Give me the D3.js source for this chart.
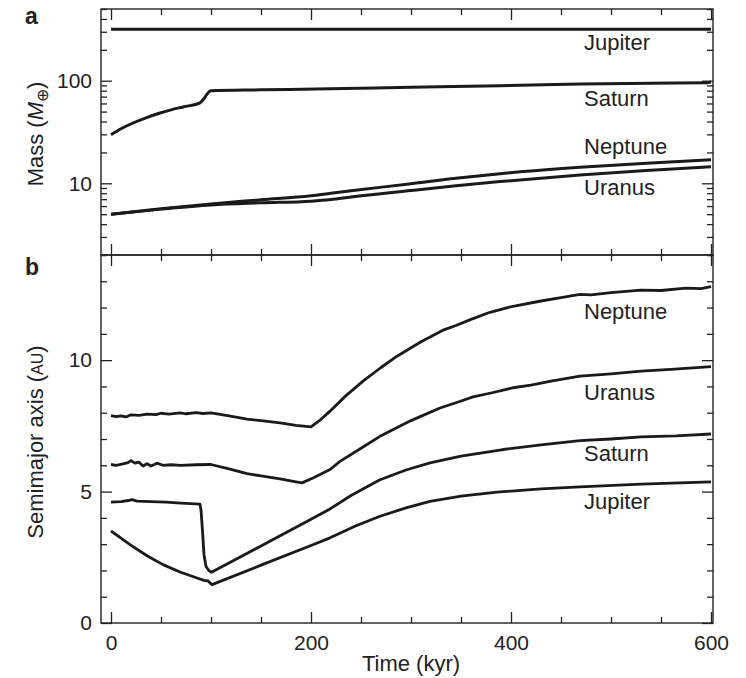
<!DOCTYPE html>
<html>
<head>
<meta charset="utf-8">
<script src="https://cdn.jsdelivr.net/npm/d3@7"></script>
<style>
  body { margin: 0; background: #fff; }
  text { font-family: "Liberation Sans", Arial, Helvetica, sans-serif; fill: #222; }
</style>
</head>
<body>
<svg width="746" height="678"></svg>
<script>
// ---- data: [time (kyr), value] ----
const jupiterMass = [[0, 318], [600, 318]];
const saturnMass = [[0, 29.7], [10, 34], [22, 38.7], [35, 43.5], [49, 48.5], [60, 52], [72, 55.5],
  [89, 60.9], [93, 67], [97, 76], [100, 80], [150, 81.5], [219, 83.5], [300, 86.5], [389, 89.5],
  [469, 92.8], [540, 94.5], [596, 95.5], [600, 97]];
const neptuneMass = [[0, 5], [50, 5.65], [100, 6.3], [150, 6.9], [200, 7.55], [220, 8.0], [240, 8.46],
  [300, 9.9], [345, 11.2], [389, 12.4], [469, 14.3], [540, 15.8], [600, 17]];
const uranusMass = [[0, 5], [50, 5.6], [100, 6.15], [150, 6.45], [200, 6.7], [220, 6.95], [240, 7.35],
  [300, 8.5], [345, 9.45], [389, 10.4], [469, 12.06], [540, 13.4], [600, 14.5]];

const neptuneAxis = [[0, 7.89], [5, 7.85], [10, 7.88], [15, 7.84], [20, 7.92], [28, 7.9], [36, 7.95],
  [45, 7.93], [50, 7.98], [58, 7.95], [69, 7.99], [75, 7.96], [85, 8.0], [92, 7.97], [100, 7.99],
  [118, 7.88], [136, 7.76], [150, 7.7], [169, 7.61], [185, 7.52], [200, 7.46], [210, 7.75],
  [219, 8.06], [235, 8.65], [252, 9.2], [270, 9.72], [286, 10.15], [310, 10.7], [332, 11.14],
  [345, 11.32], [360, 11.55], [379, 11.82], [402, 12.05], [430, 12.25], [450, 12.38], [469, 12.5],
  [480, 12.48], [500, 12.57], [530, 12.66], [550, 12.65], [575, 12.74], [590, 12.72], [600, 12.8]];
const uranusAxis = [[0, 6.03], [5, 6.0], [12, 6.05], [17, 6.1], [20, 6.18], [24, 6.08], [28, 6.12],
  [32, 5.97], [36, 6.06], [40, 5.97], [46, 6.08], [52, 6.0], [60, 6.02], [70, 6.0], [85, 6.02],
  [100, 6.03], [118, 5.86], [136, 5.68], [150, 5.6], [169, 5.48], [185, 5.37], [191, 5.33],
  [202, 5.52], [219, 5.84], [229, 6.15], [250, 6.65], [269, 7.1], [300, 7.7], [329, 8.18],
  [345, 8.38], [362, 8.6], [380, 8.75], [402, 8.95], [420, 9.05], [440, 9.2], [469, 9.39],
  [500, 9.48], [530, 9.58], [560, 9.65], [600, 9.75]];
const saturnAxis = [[0, 4.6], [10, 4.62], [17, 4.66], [21, 4.69], [26, 4.64], [40, 4.62], [55, 4.6],
  [70, 4.56], [89, 4.52], [90, 4.3], [91.5, 3.5], [93, 2.6], [95, 2.15], [98, 1.99], [100.5, 1.93],
  [150, 2.93], [200, 3.95], [219, 4.34], [240, 4.85], [269, 5.45], [295, 5.82], [319, 6.09],
  [350, 6.35], [392, 6.6], [430, 6.78], [469, 6.94], [500, 7.0], [530, 7.08], [565, 7.12], [600, 7.19]];
const jupiterAxis = [[0, 3.5], [10, 3.23], [19, 2.98], [36, 2.56], [52, 2.22], [69, 1.94], [86, 1.71],
  [93, 1.62], [97, 1.6], [101, 1.46], [150, 2.2], [200, 2.95], [219, 3.24], [245, 3.7], [269, 4.06],
  [295, 4.38], [319, 4.63], [350, 4.83], [386, 4.98], [430, 5.1], [469, 5.18], [530, 5.28], [600, 5.37]];

const timeMajor = [0, 200, 400, 600];
const timeMinor = [50, 100, 150, 250, 300, 350, 450, 500, 550];
const massMajor = [10, 100];
const massMinor = [2, 3, 4, 5, 6, 7, 8, 9, 20, 30, 40, 50, 60, 70, 80, 90, 200, 300, 400, 500];
const axisMajor = [0, 5, 10];
const axisMinor = [1, 2, 3, 4, 6, 7, 8, 9, 11, 12, 13, 14];

const massLabels = [["Jupiter", 50], ["Saturn", 106], ["Neptune", 154], ["Uranus", 195]];
const axisLabels = [["Neptune", 319], ["Uranus", 400], ["Saturn", 461], ["Jupiter", 509]];

// ---- layout ----
const svg = d3.select("svg");
const left = 101, right = 713, topA = 9, mid = 255, bottom = 623;

const x = d3.scaleLinear().domain([-10, 602]).range([left, right]);
const yA = d3.scaleLog().domain([2, 500]).range([mid, topA]);
const yB = d3.scaleLinear().domain([0, 14]).range([bottom, mid]);

function ticks(g, axis, values, size, labels) {
  g.call(axis.tickValues(values).tickSize(size).tickPadding(labels ? 9 : 0)
    .tickFormat(labels ? d3.format("d") : ""));
  g.select(".domain").remove();
  g.selectAll("line").attr("stroke", "#222").attr("stroke-width", 1.3);
  g.selectAll("text").style("font-size", "21px").attr("fill", "#222");
}

// x ticks on every horizontal edge
[[topA, d3.axisTop], [mid, d3.axisBottom], [mid, d3.axisTop], [bottom, d3.axisBottom]].forEach(([yy, ax]) => {
  ticks(svg.append("g").attr("transform", `translate(0,${yy})`), ax(x), timeMajor, -11, false);
  ticks(svg.append("g").attr("transform", `translate(0,${yy})`), ax(x), timeMinor, -6, false);
});
// bottom labels
const bl = svg.append("g").attr("transform", `translate(0,${bottom})`);
ticks(bl, d3.axisBottom(x), timeMajor, 0, true);
bl.selectAll("line").remove();
bl.selectAll("text").attr("y", 12).attr("dy", "0.73em");

// panel a y ticks
ticks(svg.append("g").attr("transform", `translate(${left},0)`), d3.axisLeft(yA), massMajor, -11, true);
ticks(svg.append("g").attr("transform", `translate(${left},0)`), d3.axisLeft(yA), massMinor, -6, false);
ticks(svg.append("g").attr("transform", `translate(${right},0)`), d3.axisRight(yA), massMajor, -11, false);
ticks(svg.append("g").attr("transform", `translate(${right},0)`), d3.axisRight(yA), massMinor, -6, false);

// panel b y ticks
ticks(svg.append("g").attr("transform", `translate(${left},0)`), d3.axisLeft(yB), axisMajor, -11, true);
ticks(svg.append("g").attr("transform", `translate(${left},0)`), d3.axisLeft(yB), axisMinor, -6, false);
ticks(svg.append("g").attr("transform", `translate(${right},0)`), d3.axisRight(yB), axisMajor, -11, false);
ticks(svg.append("g").attr("transform", `translate(${right},0)`), d3.axisRight(yB), axisMinor, -6, false);

// frames
svg.append("rect").attr("x", left).attr("y", topA).attr("width", right - left).attr("height", mid - topA)
  .attr("fill", "none").attr("stroke", "#222").attr("stroke-width", 1.4);
svg.append("rect").attr("x", left).attr("y", mid).attr("width", right - left).attr("height", bottom - mid)
  .attr("fill", "none").attr("stroke", "#222").attr("stroke-width", 1.4);

// lines: smooth in panel a, straight segments in panel b (sharp corners near 100 and 200 kyr)
const lineA = d3.line().x(d => x(d[0])).y(d => yA(d[1])).curve(d3.curveMonotoneX);
const lineB = d3.line().x(d => x(d[0])).y(d => yB(d[1]));

[jupiterMass, saturnMass, neptuneMass, uranusMass].forEach(s => {
  svg.append("path").datum(s).attr("d", lineA)
    .attr("fill", "none").attr("stroke", "#1a1a1a").attr("stroke-width", 3).attr("stroke-linejoin", "round");
});
[neptuneAxis, uranusAxis, saturnAxis, jupiterAxis].forEach(s => {
  svg.append("path").datum(s).attr("d", lineB)
    .attr("fill", "none").attr("stroke", "#1a1a1a").attr("stroke-width", 2.8).attr("stroke-linejoin", "round");
});

// planet labels
svg.selectAll(".la").data(massLabels.concat(axisLabels)).enter().append("text")
  .attr("x", 584).attr("y", d => d[1]).style("font-size", "22px").text(d => d[0]);

// panel letters
svg.append("text").attr("x", 25).attr("y", 24).style("font-size", "23px").style("font-weight", "bold").text("a");
svg.append("text").attr("x", 25).attr("y", 275).style("font-size", "23px").style("font-weight", "bold").text("b");

// axis titles
const tA = svg.append("text").attr("transform", "translate(43,134) rotate(-90)")
  .attr("text-anchor", "middle").style("font-size", "22px");
tA.append("tspan").text("Mass (");
tA.append("tspan").style("font-style", "italic").text("M");
tA.append("tspan").attr("dy", 5).style("font-size", "16px").text("⊕");
tA.append("tspan").attr("dy", -5).text(")");

const tB = svg.append("text").attr("transform", "translate(43,442) rotate(-90)")
  .attr("text-anchor", "middle").style("font-size", "22px");
tB.append("tspan").text("Semimajor axis (");
tB.append("tspan").style("font-size", "16px").text("AU");
tB.append("tspan").text(")");

svg.append("text").attr("x", 411).attr("y", 671).attr("text-anchor", "middle")
  .style("font-size", "22px").text("Time (kyr)");
</script>
</body>
</html>
